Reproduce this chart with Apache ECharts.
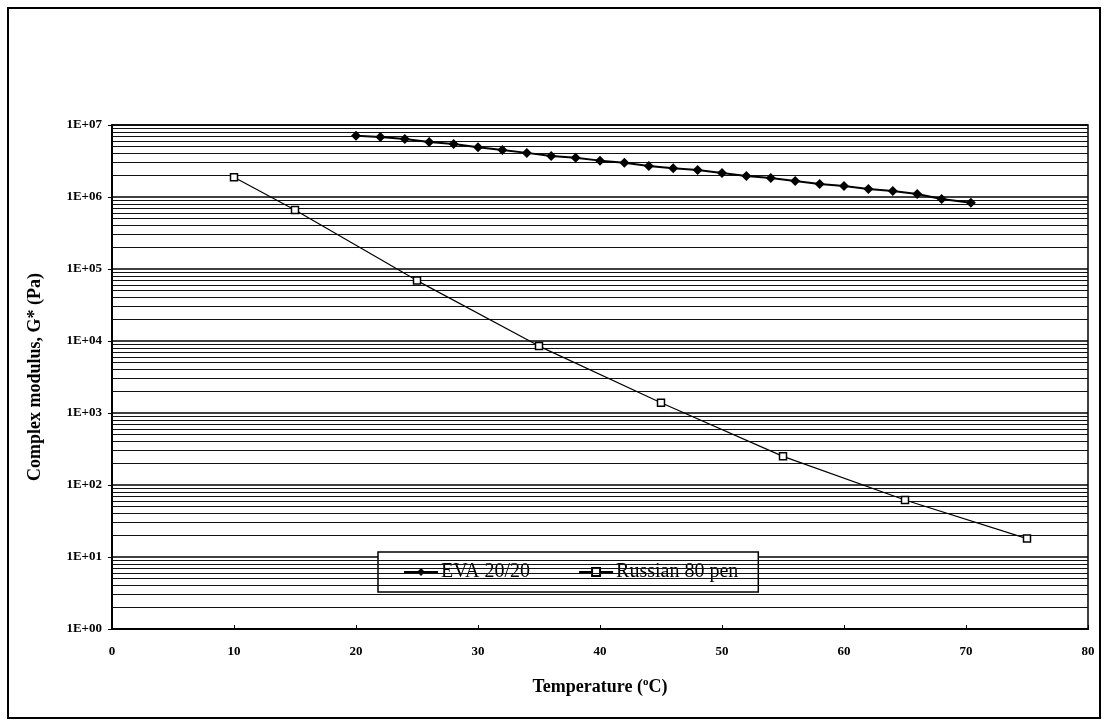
<!DOCTYPE html>
<html>
<head>
<meta charset="utf-8">
<script src="https://cdn.jsdelivr.net/npm/echarts@6/dist/echarts.min.js"></script>
<style>
  html, body { margin: 0; padding: 0; background: #fff; }
  #chart { width: 1109px; height: 726px; }
</style>
</head>
<body>
<div id="chart"></div>
<script>
// EVA 20/20 readings
const evaTemps = [20, 22, 24, 26, 28, 30, 32, 34, 36, 38, 40, 42, 44, 46, 48, 50, 52, 54, 56, 58, 60, 62, 64, 66, 68, 70.4];
const evaModulus = [7.1e6, 6.8e6, 6.4e6, 5.8e6, 5.45e6, 4.9e6, 4.5e6, 4.1e6, 3.7e6, 3.5e6, 3.2e6, 3.0e6, 2.7e6, 2.5e6, 2.37e6, 2.15e6, 1.96e6, 1.84e6, 1.67e6, 1.52e6, 1.42e6, 1.29e6, 1.21e6, 1.1e6, 9.4e5, 8.3e5];

// Russian 80 pen readings
const penTemps = [10, 15, 25, 35, 45, 55, 65, 75];
const penModulus = [1.88e6, 6.6e5, 6.9e4, 8.5e3, 1.39e3, 2.5e2, 62, 18];

// gridlines: every 2..9 x 10^n
const decades = [0, 1, 2, 3, 4, 5, 6];
const multipliers = [2, 3, 4, 5, 6, 7, 8, 9];

const font = '"Liberation Serif", "Times New Roman", serif';

const chart = echarts.init(document.getElementById('chart'));

const gridValues = [];
decades.forEach(d => {
  multipliers.forEach(m => gridValues.push(m * Math.pow(10, d)));
});

const option = {
  animation: false,
  backgroundColor: '#fff',
  grid: {
    left: 112,
    right: 21,
    top: 125,
    bottom: 97,
    show: true,
    borderColor: '#000',
    borderWidth: 1.5
  },
  graphic: [{
    type: 'rect',
    shape: { x: 8, y: 8, width: 1092, height: 710 },
    style: { fill: 'none', stroke: '#000', lineWidth: 2 },
    silent: true
  }],
  legend: {
    left: 378,
    top: 552,
    padding: [10, 20, 10, 25],
    itemGap: 48,
    itemWidth: 34,
    itemHeight: 10,
    backgroundColor: '#fff',
    borderColor: '#000',
    borderWidth: 1.5,
    textStyle: { fontFamily: font, fontSize: 20, color: '#000', padding: [0, 0, 0, -2] },
    data: ['EVA 20/20', 'Russian 80 pen']
  },
  xAxis: {
    type: 'value',
    min: 0,
    max: 80,
    interval: 10,
    name: '{a|Temperature (}{s|o}{a|C)}',
    nameLocation: 'middle',
    nameGap: 48,
    nameTextStyle: {
      rich: {
        a: { fontFamily: font, fontSize: 18, fontWeight: 'bold', color: '#000' },
        s: { fontFamily: font, fontSize: 11, fontWeight: 'bold', color: '#000', verticalAlign: 'top', padding: [0, 0, 9, 0] }
      }
    },
    axisLine: { lineStyle: { color: '#000', width: 2 } },
    axisTick: { inside: true, length: 4, lineStyle: { color: '#000' } },
    axisLabel: { fontFamily: font, fontSize: 13, fontWeight: 'bold', color: '#000', margin: 16 },
    splitLine: { show: false }
  },
  yAxis: {
    type: 'log',
    logBase: 10,
    min: 1,
    max: 1e7,
    name: 'Complex modulus, G* (Pa)',
    nameLocation: 'middle',
    nameGap: 68,
    nameTextStyle: { fontFamily: font, fontSize: 18, fontWeight: 'bold', color: '#000' },
    axisLine: { lineStyle: { color: '#000', width: 2 } },
    axisTick: { length: 4, lineStyle: { color: '#000' } },
    axisLabel: {
      fontFamily: font,
      fontSize: 13,
      fontWeight: 'bold',
      color: '#000',
      margin: 10,
      formatter: v => '1E+' + String(Math.round(Math.log10(v))).padStart(2, '0')
    },
    splitLine: { show: true, lineStyle: { color: '#000', width: 1.5 } }
  },
  series: [
    {
      name: 'EVA 20/20',
      type: 'line',
      data: evaTemps.map((t, i) => [t, evaModulus[i]]),
      symbol: 'diamond',
      symbolSize: 10,
      itemStyle: { color: '#000' },
      lineStyle: { color: '#000', width: 2 },
      z: 5,
      markLine: {
        silent: true,
        symbol: 'none',
        label: { show: false },
        lineStyle: { color: '#111', width: 1.2, type: 'solid' },
        data: gridValues.map(v => ({ yAxis: v }))
      }
    },
    {
      name: 'Russian 80 pen',
      type: 'line',
      data: penTemps.map((t, i) => [t, penModulus[i]]),
      symbol: 'rect',
      symbolSize: 7,
      itemStyle: { color: '#fff', borderColor: '#000', borderWidth: 1.5 },
      lineStyle: { color: '#000', width: 1.2 },
      z: 5
    }
  ]
};

chart.setOption(option);
</script>
</body>
</html>
